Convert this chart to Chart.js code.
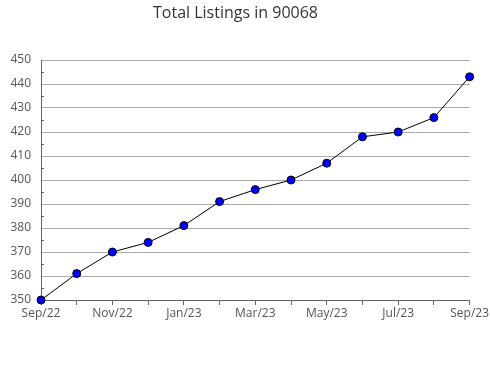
<!DOCTYPE html>
<html>
<head>
<meta charset="utf-8">
<title>Total Listings in 90068</title>
<script src="https://cdn.jsdelivr.net/npm/chart.js@4.4.0/dist/chart.umd.min.js"></script>
<style>
  html, body { margin: 0; padding: 0; background: #fff; }
  #wrap { width: 490px; height: 380px; }
</style>
</head>
<body>
<div id="wrap"><canvas id="listingsChart" width="490" height="380"></canvas></div>
<script>
// chart data
const months = ['Sep/22', 'Oct/22', 'Nov/22', 'Dec/22', 'Jan/23', 'Feb/23', 'Mar/23',
                'Apr/23', 'May/23', 'Jun/23', 'Jul/23', 'Aug/23', 'Sep/23'];
const listings = [350, 361, 370, 374, 381, 391, 396, 400, 407, 418, 420, 426, 443];
const yMin = 350;
const yMax = 450;

// small inward ticks at the half steps of the y axis
const minorTicks = {
    id: 'minorTicks',
    afterDraw(chart) {
        const ctx = chart.ctx;
        const y = chart.scales.y;
        const left = chart.chartArea.left;
        ctx.save();
        ctx.strokeStyle = '#666';
        ctx.lineWidth = 1;
        for (let v = yMin + 5; v < yMax; v += 10) {
            const py = Math.round(y.getPixelForValue(v)) + 0.5;
            ctx.beginPath();
            ctx.moveTo(left, py);
            ctx.lineTo(left + 3, py);
            ctx.stroke();
        }
        ctx.restore();
    }
};

function initListingsChart() {
    const ctx = document.getElementById('listingsChart').getContext('2d');
    new Chart(ctx, {
        type: 'line',
        data: {
            labels: months,
            datasets: [{
                label: 'Total Listings',
                data: listings,
                borderColor: '#000',
                borderWidth: 1,
                backgroundColor: '#0000ff',
                pointBackgroundColor: '#0000ff',
                pointBorderColor: '#000',
                pointBorderWidth: 1,
                pointRadius: 4,
                tension: 0,
                clip: false
            }]
        },
        options: {
            responsive: false,
            animation: false,
            layout: { padding: { left: 0, right: 19, top: 0, bottom: 0 } },
            plugins: {
                legend: { display: false },
                tooltip: { enabled: false },
                title: {
                    display: true,
                    text: 'Total Listings in 90068',
                    color: '#333',
                    font: { family: 'Open Sans', size: 16, weight: 'normal' },
                    padding: { top: 4, bottom: 36.8 }
                }
            },
            scales: {
                x: {
                    offset: false,
                    grid: { drawOnChartArea: false, drawTicks: true, tickLength: 5, color: '#666' },
                    border: { color: '#666' },
                    ticks: {
                        autoSkip: false,
                        maxRotation: 0,
                        padding: 1,
                        color: '#555',
                        font: { family: 'Open Sans', size: 12 },
                        callback: function (val, i) { return i % 2 === 0 ? months[i] : ''; }
                    },
                    afterFit: function (scale) { scale.height = 80; }
                },
                y: {
                    min: yMin,
                    max: yMax,
                    grid: { drawTicks: false, color: '#aaa' },
                    border: { color: '#666' },
                    ticks: {
                        stepSize: 10,
                        padding: 10,
                        color: '#555',
                        font: { family: 'Open Sans', size: 12 }
                    },
                    afterFit: function (scale) { scale.width = 41; }
                }
            }
        },
        plugins: [minorTicks]
    });
}

window.onload = function () {
    initListingsChart();
};
</script>
</body>
</html>
